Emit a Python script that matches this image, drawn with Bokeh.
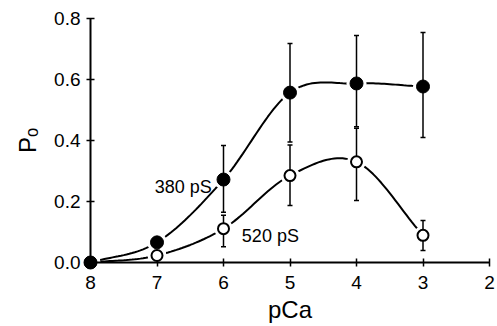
import numpy as np
from bokeh.plotting import figure
from bokeh.models import Range1d, FixedTicker, Label
from bokeh.embed import file_html
from bokeh.resources import INLINE

# ---- data ----
pca = [8, 7, 6, 5, 4, 3]
po_380 = [0.0, 0.066, 0.272, 0.557, 0.587, 0.577]
lo_380 = [0.0, 0.066, 0.165, 0.395, 0.445, 0.410]
hi_380 = [0.0, 0.066, 0.384, 0.718, 0.744, 0.754]
po_520 = [0.0, 0.023, 0.111, 0.285, 0.330, 0.089]
lo_520 = [0.0, 0.023, 0.052, 0.187, 0.203, 0.039]
hi_520 = [0.0, 0.023, 0.155, 0.385, 0.440, 0.138]
x_ticks = [8, 7, 6, 5, 4, 3, 2]
y_ticks = [0.0, 0.2, 0.4, 0.6, 0.8]
y_tick_labels = ["0.0", "0.2", "0.4", "0.6", "0.8"]
label_380 = "380 pS"
label_520 = "520 pS"
x_title = "pCa"
y_title = "P\u2092"

FONT = "Liberation Sans"


def catmull_rom(xs, ys, n=24):
    pts = np.column_stack([xs, ys]).astype(float)
    pts = np.vstack([2 * pts[0] - pts[1], pts, 2 * pts[-1] - pts[-2]])
    out = []
    for i in range(1, len(pts) - 2):
        p0, p1, p2, p3 = pts[i - 1], pts[i], pts[i + 1], pts[i + 2]
        for t in np.linspace(0, 1, n, endpoint=False):
            t2, t3 = t * t, t * t * t
            pt = 0.5 * ((2 * p1) + (-p0 + p2) * t + (2 * p0 - 5 * p1 + 4 * p2 - p3) * t2
                        + (-p0 + 3 * p1 - 3 * p2 + p3) * t3)
            out.append(pt)
    out.append(pts[-2])
    out = np.array(out)
    return out[:, 0], out[:, 1]


p = figure(width=497, height=326, output_backend="svg", toolbar_location=None,
           x_range=Range1d(8, 2), y_range=Range1d(0, 0.8),
           min_border_left=90, min_border_right=8, min_border_top=18, min_border_bottom=64)
p.background_fill_color = "white"
p.border_fill_color = "white"
p.outline_line_color = None
p.grid.visible = False

for ax in (p.xaxis[0], p.yaxis[0]):
    ax.axis_line_width = 2
    ax.axis_line_color = "black"
    ax.major_tick_line_width = 1.5
    ax.major_tick_in = 4
    ax.major_tick_out = 4
    ax.minor_tick_line_color = None
    ax.major_label_text_font = FONT
    ax.major_label_text_font_size = "19px"
    ax.major_label_text_color = "black"
    ax.axis_label_text_font = FONT
    ax.axis_label_text_font_style = "normal"
    ax.axis_label_text_font_size = "24px"
    ax.axis_label_text_color = "black"

p.xaxis.ticker = FixedTicker(ticks=x_ticks)
p.xaxis.major_label_overrides = {t: str(t) for t in x_ticks}
p.xaxis.major_label_standoff = 9
p.xaxis.axis_label = x_title
p.xaxis.axis_label_standoff = 4
p.yaxis.ticker = FixedTicker(ticks=y_ticks)
p.yaxis.major_label_overrides = {t: s for t, s in zip(y_ticks, y_tick_labels)}
p.yaxis.major_label_standoff = 6
p.yaxis.axis_label = y_title
p.yaxis.axis_label_standoff = 10

# curves
cx, cy = catmull_rom(pca, po_380)
p.line(cx, cy, line_color="black", line_width=2)
ox, oy = catmull_rom(pca, po_520)
p.line(ox, oy, line_color="black", line_width=2)

# white halos around markers (gaps in curves)
p.scatter(pca, po_520, size=19, fill_color="white", line_color=None)
p.scatter(pca, po_380, size=20, fill_color="white", line_color=None)

# error bars
for lo, hi in ((lo_380, hi_380), (lo_520, hi_520)):
    ex = [x for x, a, b in zip(pca, lo, hi) if b > a]
    el = [a for a, b in zip(lo, hi) if b > a]
    eh = [b for a, b in zip(lo, hi) if b > a]
    p.segment(x0=ex, y0=el, x1=ex, y1=eh, line_color="black", line_width=1.5)
    p.scatter(ex + ex, el + eh, marker="dash", size=5, line_color="black", line_width=1.5)

# markers
r1 = p.scatter(pca, po_520, size=11, fill_color="white", line_color="black", line_width=2)
r2 = p.scatter(pca, po_380, size=13, fill_color="black", line_color="black", line_width=1)
r1.level = "overlay"
r2.level = "overlay"

# text labels
p.add_layout(Label(x=6.176, y=0.249, text=label_380, text_align="right",
                   text_baseline="alphabetic", text_font=FONT, text_font_size="18px",
                   text_color="black"))
p.add_layout(Label(x=5.724, y=0.0885, text=label_520, text_align="left",
                   text_baseline="alphabetic", text_font=FONT, text_font_size="18px",
                   text_color="black"))

open("out.html", "w").write(file_html(p, INLINE))
